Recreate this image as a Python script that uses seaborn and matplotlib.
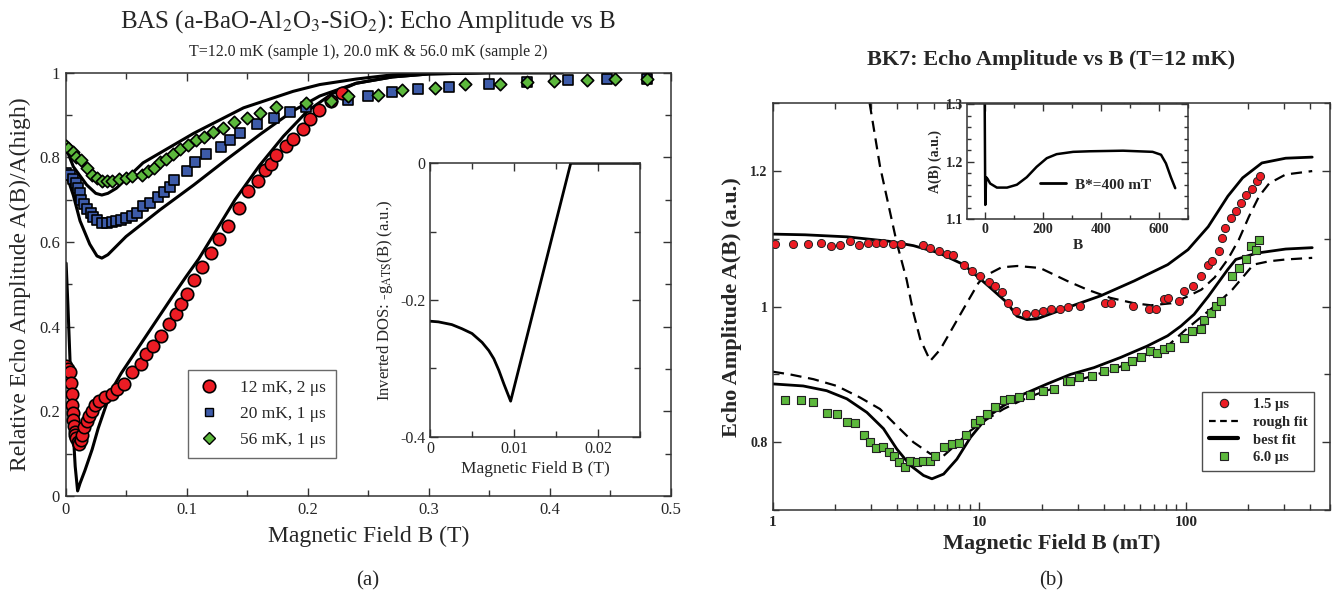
import numpy as np
import pandas as pd
import matplotlib
matplotlib.use("Agg")
import matplotlib.pyplot as plt
import seaborn as sns
from matplotlib.ticker import MultipleLocator, FuncFormatter, LogLocator, NullFormatter
from matplotlib.lines import Line2D

# ---------------- Panel (a): BAS ----------------
b12 = [0.0008, 0.002, 0.004, 0.0045, 0.005, 0.0055, 0.006, 0.0065, 0.007, 0.0075, 0.008, 0.009,
       0.010, 0.011, 0.0124, 0.0138, 0.015, 0.0174, 0.019, 0.0215, 0.024, 0.0275, 0.0325, 0.038,
       0.0427, 0.048, 0.055, 0.0625, 0.0667, 0.0725, 0.0788, 0.0854, 0.091, 0.0953, 0.100, 0.106,
       0.113, 0.120, 0.127, 0.134, 0.143, 0.151, 0.159, 0.165, 0.170, 0.174, 0.182, 0.188, 0.196,
       0.202, 0.209, 0.219, 0.228]
a12 = [0.306, 0.300, 0.293, 0.266, 0.240, 0.215, 0.195, 0.180, 0.165, 0.152, 0.145, 0.136,
       0.128, 0.124, 0.133, 0.145, 0.162, 0.176, 0.188, 0.200, 0.214, 0.225, 0.233, 0.240,
       0.252, 0.265, 0.292, 0.313, 0.336, 0.355, 0.379, 0.407, 0.430, 0.454, 0.477, 0.510,
       0.540, 0.573, 0.607, 0.637, 0.681, 0.720, 0.744, 0.770, 0.784, 0.805, 0.827, 0.844, 0.866,
       0.890, 0.912, 0.932, 0.952]

b20 = [0.000, 0.004, 0.0065, 0.009, 0.0106, 0.012, 0.013, 0.015, 0.018, 0.021, 0.023, 0.026,
       0.030, 0.034, 0.038, 0.042, 0.046, 0.050, 0.055, 0.059, 0.064, 0.070, 0.076, 0.081, 0.086,
       0.090, 0.100, 0.107, 0.116, 0.128, 0.136, 0.144, 0.158, 0.172, 0.185, 0.199, 0.233, 0.250,
       0.270, 0.291, 0.317, 0.350, 0.381, 0.415, 0.447, 0.480]
a20 = [0.764, 0.758, 0.750, 0.740, 0.727, 0.715, 0.700, 0.690, 0.679, 0.668, 0.659, 0.651,
       0.646, 0.646, 0.647, 0.649, 0.653, 0.657, 0.662, 0.668, 0.684, 0.692, 0.706, 0.718, 0.730,
       0.747, 0.768, 0.790, 0.809, 0.824, 0.842, 0.857, 0.879, 0.893, 0.907, 0.918, 0.936, 0.946,
       0.955, 0.962, 0.966, 0.973, 0.977, 0.982, 0.985, 0.985]

b56 = [0.000, 0.0023, 0.006, 0.009, 0.013, 0.0175, 0.0216, 0.026, 0.030, 0.034, 0.038, 0.044,
       0.050, 0.055, 0.063, 0.068, 0.073, 0.078, 0.083, 0.089, 0.0945, 0.101, 0.108, 0.114, 0.122,
       0.130, 0.139, 0.150, 0.161, 0.174, 0.199, 0.219, 0.233, 0.258, 0.278, 0.305, 0.330, 0.359,
       0.381, 0.403, 0.431, 0.454, 0.480]
a56 = [0.828, 0.822, 0.812, 0.800, 0.793, 0.775, 0.759, 0.751, 0.745, 0.743, 0.745, 0.749,
       0.751, 0.755, 0.759, 0.767, 0.775, 0.790, 0.796, 0.809, 0.820, 0.830, 0.842, 0.849, 0.861,
       0.869, 0.883, 0.893, 0.905, 0.919, 0.928, 0.934, 0.944, 0.948, 0.958, 0.964, 0.973, 0.974,
       0.977, 0.981, 0.983, 0.985, 0.985]

fit12_b = [0.0005, 0.002, 0.004, 0.006, 0.008, 0.010, 0.012, 0.016, 0.022, 0.027, 0.033, 0.038,
           0.046, 0.060, 0.074, 0.088, 0.100, 0.110, 0.125, 0.140, 0.160, 0.180, 0.200, 0.220,
           0.240, 0.270, 0.300, 0.350, 0.410]
fit12_a = [0.55, 0.45, 0.30, 0.17, 0.07, 0.012, 0.03, 0.06, 0.11, 0.16, 0.21, 0.25,
           0.29, 0.35, 0.41, 0.47, 0.52, 0.56, 0.63, 0.70, 0.78, 0.85, 0.91, 0.95,
           0.975, 0.99, 0.997, 1.0, 1.0]
fit20_b = [0.000, 0.003, 0.0065, 0.012, 0.020, 0.026, 0.030, 0.035, 0.050, 0.078, 0.106, 0.133,
           0.161, 0.188, 0.210, 0.240, 0.270, 0.300, 0.350, 0.410]
fit20_a = [0.765, 0.740, 0.710, 0.650, 0.595, 0.567, 0.562, 0.570, 0.613, 0.676, 0.735, 0.795,
           0.855, 0.910, 0.945, 0.975, 0.990, 0.997, 1.0, 1.0]
fit56_b = [0.000, 0.0065, 0.0175, 0.025, 0.030, 0.035, 0.042, 0.064, 0.106, 0.147, 0.188, 0.210,
           0.240, 0.270, 0.300, 0.350, 0.410]
fit56_a = [0.825, 0.778, 0.735, 0.715, 0.711, 0.715, 0.727, 0.787, 0.857, 0.917, 0.956, 0.972,
           0.985, 0.995, 0.999, 1.0, 1.0]

dos_b = [0.0, 0.001, 0.0026, 0.0038, 0.005, 0.0062, 0.007, 0.0076, 0.0082, 0.0088, 0.0096,
         0.01675, 0.0251]
dos_g = [-0.231, -0.232, -0.236, -0.242, -0.249, -0.262, -0.274, -0.286, -0.303, -0.323, -0.348,
         0.0, 0.0]

# ---------------- Panel (b): BK7 ----------------
r_b = [1.02, 1.255, 1.477, 1.70, 1.91, 2.12, 2.365, 2.62, 2.875, 3.155, 3.43, 3.80, 4.17, 5.32,
       5.78, 6.35, 6.97, 7.47, 8.39, 9.21, 10.02, 11.1, 11.9, 12.8, 13.7, 15.0, 16.8, 18.5, 20.3,
       22.3, 24.5, 26.9, 30.9, 40.8, 43.5, 55.3, 66.6, 71.4, 78.5, 81.8, 92.4, 98.5, 108.8, 119.1,
       128.5, 133.4, 144.2, 149.9, 155.8, 164.9, 174.8, 185.3, 196.5, 208.4, 220.9, 229.6]
r_a = [1.093, 1.093, 1.093, 1.094, 1.090, 1.091, 1.097, 1.091, 1.094, 1.094, 1.094, 1.093, 1.092,
       1.091, 1.087, 1.082, 1.078, 1.076, 1.061, 1.053, 1.045, 1.037, 1.030, 1.021, 1.005, 0.994,
       0.989, 0.991, 0.994, 0.996, 0.997, 0.999, 1.001, 1.006, 1.006, 1.001, 0.996, 0.996, 1.011,
       1.013, 1.008, 1.023, 1.030, 1.045, 1.062, 1.067, 1.082, 1.101, 1.116, 1.131, 1.141, 1.153,
       1.165, 1.174, 1.185, 1.193]

g_b = [1.144, 1.363, 1.569, 1.822, 2.04, 2.28, 2.50, 2.76, 2.96, 3.16, 3.43, 3.63, 3.84, 4.06,
       4.37, 4.62, 4.98, 5.36, 5.74, 6.12, 6.71, 7.37, 7.93, 8.66, 9.55, 10.1, 10.9, 11.96, 13.1,
       14.1, 15.5, 17.6, 20.4, 22.9, 26.5, 27.6, 30.5, 35.0, 40.0, 45.0, 50.9, 55.0, 60.4, 67.4,
       72.5, 78.2, 83.8, 98.1, 107.8, 118.2, 122.6, 132.1, 139.7, 147.8, 167.9, 180.9, 195.1,
       206.5, 218.6, 226.8]
g_a = [0.863, 0.863, 0.860, 0.843, 0.841, 0.830, 0.828, 0.811, 0.800, 0.791, 0.793, 0.786, 0.780,
       0.771, 0.763, 0.772, 0.771, 0.772, 0.773, 0.780, 0.793, 0.798, 0.799, 0.810, 0.829, 0.833,
       0.842, 0.852, 0.863, 0.864, 0.866, 0.869, 0.876, 0.878, 0.890, 0.891, 0.896, 0.898, 0.905,
       0.910, 0.913, 0.920, 0.925, 0.935, 0.932, 0.937, 0.941, 0.954, 0.964, 0.967, 0.981, 0.991,
       1.001, 1.008, 1.045, 1.057, 1.070, 1.089, 1.084, 1.099]

rough1_b = [2.94, 3.3, 3.98, 4.44, 4.79, 5.17, 5.78, 6.47, 7.51, 8.72, 9.9, 10.6, 12.8, 15.3,
            19.7, 26.6, 33.4, 43.1, 56.3, 67.8, 85.0, 98.7, 119, 138, 160, 180.9, 202.5, 226.8,
            254, 305, 410]
rough1_a = [1.30, 1.207, 1.094, 1.04, 0.991, 0.952, 0.920, 0.937, 0.9715, 1.006, 1.035, 1.045,
            1.058, 1.060, 1.057, 1.038, 1.025, 1.013, 1.005, 1.002, 1.005, 1.013, 1.025, 1.043,
            1.070, 1.099, 1.133, 1.163, 1.182, 1.195, 1.200]
best1_b = [1.0, 1.43, 2.28, 3.63, 4.79, 6.35, 8.39, 11.1, 13.6, 15.2, 17.0, 19.0, 22.9, 26.6,
           38.7, 56.3, 81.8, 102.5, 128.5, 160, 188.6, 233.9, 305, 410]
best1_a = [1.107, 1.106, 1.103, 1.0965, 1.090, 1.0794, 1.062, 1.030, 1.006, 0.986, 0.981, 0.982,
           0.991, 0.9985, 1.016, 1.038, 1.062, 1.084, 1.118, 1.163, 1.190, 1.212, 1.219, 1.2206]
rough2_b = [1.0, 1.21, 1.57, 2.04, 2.64, 3.3, 3.98, 4.79, 5.78, 6.71, 7.78, 9.05, 10.9, 13.1,
            15.8, 19.0, 24.7, 33.3, 41.7, 52.1, 65.2, 81.7, 98.1, 138, 168, 212.7, 254, 305, 410]
rough2_a = [0.904, 0.900, 0.893, 0.883, 0.866, 0.849, 0.824, 0.800, 0.783, 0.780, 0.7975, 0.817,
            0.834, 0.849, 0.861, 0.871, 0.883, 0.8956, 0.905, 0.915, 0.927, 0.942, 0.964, 1.001,
            1.025, 1.062, 1.067, 1.0696, 1.072]
best2_b = [1.0, 1.40, 1.82, 2.28, 2.85, 3.43, 3.98, 4.62, 5.36, 5.89, 6.71, 7.78, 9.05, 10.9,
           13.1, 16.4, 21.3, 27.6, 35.9, 48.3, 65.2, 81.7, 94.9, 109.8, 128.5, 160, 174.8, 220.9,
           305, 410]
best2_a = [0.886, 0.883, 0.876, 0.864, 0.844, 0.820, 0.790, 0.766, 0.751, 0.746, 0.753, 0.775,
           0.807, 0.837, 0.854, 0.871, 0.886, 0.900, 0.910, 0.925, 0.942, 0.957, 0.9715, 0.9887,
           1.015, 1.055, 1.0696, 1.079, 1.085, 1.087]

ins_b = [0, 2, 5, 10, 19, 42, 77, 111, 145, 179, 214, 248, 305, 362, 477, 579, 608, 625, 642, 657]
ins_a = [1.30, 1.125, 1.173, 1.170, 1.162, 1.155, 1.155, 1.160, 1.173, 1.191, 1.206, 1.213,
         1.217, 1.218, 1.219, 1.217, 1.212, 1.197, 1.173, 1.154]

# ---------------- styling ----------------
sns.set_theme(style="ticks")
plt.rcParams['font.family'] = ['Liberation Serif', 'DejaVu Serif']
plt.rcParams['mathtext.fontset'] = 'stix'

RED = '#ec1c24'
BLUE = '#3d5ba9'
GREEN = '#5cb83c'
SPINE = '#333333'

fig = plt.figure(figsize=(13.33, 6.02), dpi=100)
W, H = 1333.0, 602.0

def rect(l, r, t, b):
    return [l / W, 1 - b / H, (r - l) / W, (b - t) / H]

def style_ax(ax, lw=1.1):
    for s in ax.spines.values():
        s.set_color(SPINE)
        s.set_linewidth(lw)
        s.set_visible(True)
    ax.tick_params(which='both', direction='in', top=True, right=True, color=SPINE, pad=4)
    ax.tick_params(which='major', length=6, width=1.0)
    ax.tick_params(which='minor', length=4, width=1.0)

fmt = FuncFormatter(lambda v, p: '%g' % round(v, 6))

# ---- Panel (a) main ----
axa = fig.add_axes(rect(65.5, 671, 72.7, 496))
style_ax(axa)
for bb, aa in [(fit12_b, fit12_a), (fit20_b, fit20_a), (fit56_b, fit56_a)]:
    sns.lineplot(x=bb, y=aa, ax=axa, color='black', lw=2.2, estimator=None, sort=False, legend=False)
sns.scatterplot(x=b12, y=a12, ax=axa, marker='o', s=80, color=RED, edgecolor='black', linewidth=1.2, zorder=5)
sns.scatterplot(x=b20, y=a20, ax=axa, marker='s', s=55, color=BLUE, edgecolor='black', linewidth=1.2, zorder=4)
sns.scatterplot(x=b56, y=a56, ax=axa, marker='D', s=40, color=GREEN, edgecolor='black', linewidth=1.2, zorder=6)
axa.set_xlim(0, 0.5)
axa.set_ylim(0, 1)
axa.xaxis.set_major_locator(MultipleLocator(0.1))
axa.xaxis.set_minor_locator(MultipleLocator(0.05))
axa.yaxis.set_major_locator(MultipleLocator(0.2))
axa.yaxis.set_minor_locator(MultipleLocator(0.1))
axa.xaxis.set_major_formatter(fmt)
axa.yaxis.set_major_formatter(fmt)
axa.tick_params(labelsize=12)
axa.set_xlabel('Magnetic Field B (T)', fontsize=17, labelpad=6)
axa.set_ylabel('Relative Echo Amplitude A(B)/A(high)', fontsize=17, labelpad=6)

leg_handles = [
    Line2D([], [], ls='none', marker='o', ms=9, mfc=RED, mec='black', mew=1.2, label='12 mK, 2 \u03bcs'),
    Line2D([], [], ls='none', marker='s', ms=6, mfc=BLUE, mec='black', mew=1.0, label='20 mK, 1 \u03bcs'),
    Line2D([], [], ls='none', marker='D', ms=6, mfc=GREEN, mec='black', mew=1.0, label='56 mK, 1 \u03bcs'),
]
lega = axa.legend(handles=leg_handles, loc='upper left', bbox_to_anchor=(0.202, 0.298),
                  borderaxespad=0, fontsize=12.5, frameon=True, fancybox=False,
                  handlelength=1.2, handletextpad=1.2, labelspacing=0.55, borderpad=0.6)
lega.get_frame().set_edgecolor('#444444')
lega.get_frame().set_linewidth(1.0)

fig.text(368 / W, 1 - 22 / H, r'BAS (a-BaO-Al$_2$O$_3$-SiO$_2$): Echo Amplitude vs B',
         ha='center', va='center', fontsize=18)
fig.text(368 / W, 1 - 52 / H, 'T=12.0 mK (sample 1), 20.0 mK & 56.0 mK (sample 2)',
         ha='center', va='center', fontsize=11.5)
fig.text(368 / W, 1 - 581 / H, '(a)', ha='center', va='center', fontsize=15)

# ---- Panel (a) inset ----
axi = fig.add_axes(rect(430, 640, 163.3, 436.7))
style_ax(axi)
sns.lineplot(x=dos_b, y=dos_g, ax=axi, color='black', lw=2.0, estimator=None, sort=False, legend=False)
axi.set_xlim(0, 0.025)
axi.set_ylim(-0.4, 0)
axi.xaxis.set_major_locator(MultipleLocator(0.01))
axi.xaxis.set_minor_locator(MultipleLocator(0.005))
axi.yaxis.set_major_locator(MultipleLocator(0.2))
axi.yaxis.set_minor_locator(MultipleLocator(0.1))
axi.xaxis.set_major_formatter(fmt)
axi.yaxis.set_major_formatter(fmt)
axi.tick_params(labelsize=11.5, pad=3)
axi.set_xlabel('Magnetic Field B (T)', fontsize=12.5, labelpad=3)
axi.set_ylabel(r'Inverted DOS: -g$_{\mathrm{ATS}}$(B) (a.u.)', fontsize=12, labelpad=4)

# ---- Panel (b) main ----
axb = fig.add_axes(rect(773, 1330, 103.3, 510))
style_ax(axb)
axb.set_xscale('log')
sns.lineplot(x=rough1_b, y=rough1_a, ax=axb, color='black', lw=1.6, ls=(0, (5, 3)), estimator=None, sort=False, legend=False)
sns.lineplot(x=best1_b, y=best1_a, ax=axb, color='black', lw=2.0, estimator=None, sort=False, legend=False)
sns.lineplot(x=rough2_b, y=rough2_a, ax=axb, color='black', lw=1.6, ls=(0, (5, 3)), estimator=None, sort=False, legend=False)
sns.lineplot(x=best2_b, y=best2_a, ax=axb, color='black', lw=2.0, estimator=None, sort=False, legend=False)
sns.scatterplot(x=r_b, y=r_a, ax=axb, marker='o', s=34, color=RED, edgecolor='#222222', linewidth=0.7, zorder=5)
sns.scatterplot(x=g_b, y=g_a, ax=axb, marker='s', s=34, color=GREEN, edgecolor='#222222', linewidth=0.8, zorder=4)
axb.set_xlim(1, 500)
axb.set_ylim(0.7, 1.3)
axb.xaxis.set_major_locator(LogLocator(base=10))
axb.xaxis.set_minor_locator(LogLocator(base=10, subs=np.arange(2, 10)))
axb.xaxis.set_minor_formatter(NullFormatter())
axb.xaxis.set_major_formatter(fmt)
axb.yaxis.set_major_locator(MultipleLocator(0.2))
axb.yaxis.set_minor_locator(MultipleLocator(0.1))
axb.yaxis.set_major_formatter(fmt)
axb.tick_params(axis='x', labelsize=11)
axb.tick_params(axis='y', labelsize=10)
for lab in axb.get_xticklabels() + axb.get_yticklabels():
    lab.set_fontweight('bold')
axb.set_xlabel('Magnetic Field B (mT)', fontsize=16, fontweight='bold', labelpad=4)
axb.set_ylabel('Echo Amplitude A(B) (a.u.)', fontsize=16, fontweight='bold', labelpad=6)

leg_b = [
    Line2D([], [], ls='none', marker='o', ms=6, mfc=RED, mec='#222222', mew=0.8, label='1.5 \u03bcs'),
    Line2D([], [], color='black', lw=1.6, ls=(0, (3, 2)), label='rough fit'),
    Line2D([], [], color='black', lw=3.0, label='best fit'),
    Line2D([], [], ls='none', marker='s', ms=6, mfc=GREEN, mec='#222222', mew=0.8, label='6.0 \u03bcs'),
]
legb = axb.legend(handles=leg_b, loc='upper left', bbox_to_anchor=(0.771, 0.291), borderaxespad=0,
                  frameon=True, fancybox=False, prop={'size': 10.5, 'weight': 'bold'},
                  handlelength=2.0, handletextpad=1.0, labelspacing=0.3, borderpad=0.45)
legb.get_frame().set_edgecolor('#222222')
legb.get_frame().set_linewidth(1.0)

fig.text(1051 / W, 1 - 60 / H, 'BK7: Echo Amplitude vs B (T=12 mK)', ha='center', va='center',
         fontsize=16, fontweight='bold')
fig.text(1051 / W, 1 - 581 / H, '(b)', ha='center', va='center', fontsize=15)

# ---- Panel (b) inset ----
axbi = fig.add_axes(rect(967.3, 1187.7, 104, 219.3))
style_ax(axbi)
axbi.tick_params(which='major', length=5)
axbi.tick_params(which='minor', length=3)
sns.lineplot(x=ins_b, y=ins_a, ax=axbi, color='black', lw=1.8, estimator=None, sort=False, legend=False)
axbi.set_xlim(-60, 700)
axbi.set_ylim(1.1, 1.3)
axbi.xaxis.set_major_locator(MultipleLocator(200))
axbi.xaxis.set_minor_locator(MultipleLocator(100))
axbi.yaxis.set_major_locator(MultipleLocator(0.1))
axbi.yaxis.set_minor_locator(MultipleLocator(0.02))
axbi.xaxis.set_major_formatter(fmt)
axbi.yaxis.set_major_formatter(fmt)
axbi.tick_params(labelsize=10, pad=3)
for lab in axbi.get_xticklabels() + axbi.get_yticklabels():
    lab.set_fontweight('bold')
axbi.set_xlabel('B', fontsize=11, fontweight='bold', labelpad=2)
axbi.set_ylabel('A(B) (a.u.)', fontsize=10, fontweight='bold', labelpad=3)
legi = axbi.legend(handles=[Line2D([], [], color='black', lw=2.0, label='B*=400 mT')],
                   loc='center left', bbox_to_anchor=(0.30, 0.30), frameon=False,
                   prop={'size': 11, 'weight': 'bold'}, handlelength=1.7, handletextpad=0.6,
                   borderaxespad=0)

fig.savefig('out.png', dpi=100)
